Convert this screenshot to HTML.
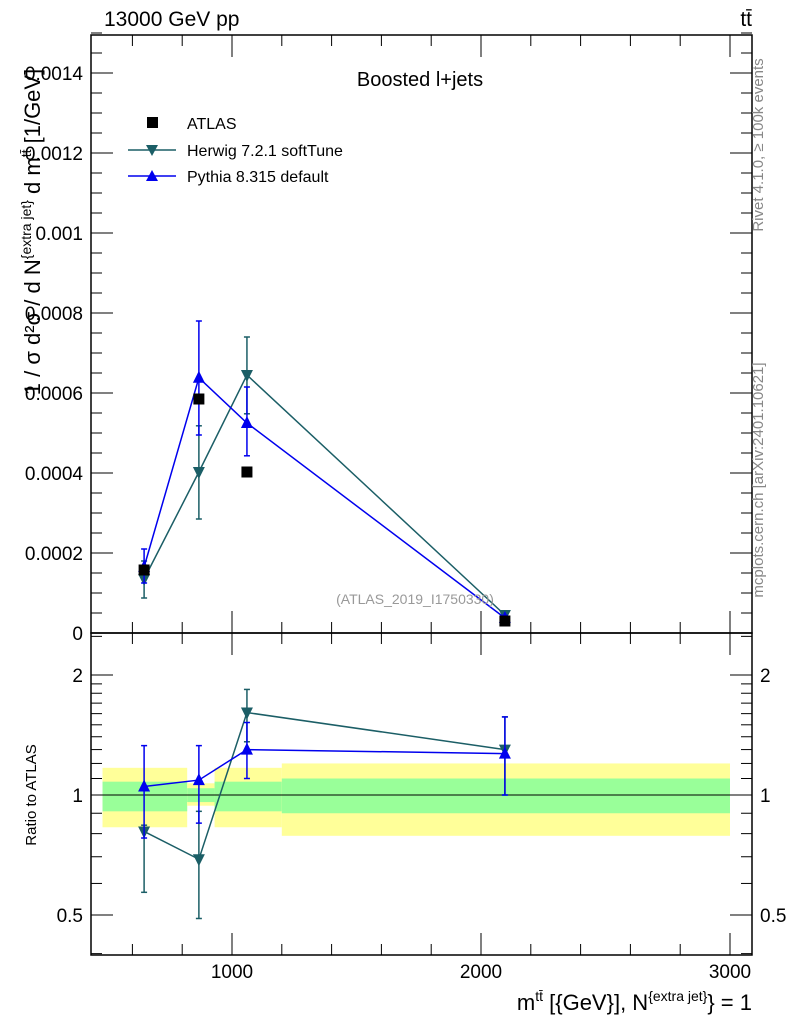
<!DOCTYPE html>
<html><head><meta charset="utf-8"><style>
body{margin:0;background:#fff;}
svg text{font-family:"Liberation Sans",sans-serif;}
</style></head><body>
<svg id="c" width="786" height="1024" xmlns="http://www.w3.org/2000/svg">
<g id="bands"></g>
<g id="axes"></g>
<g id="series"></g>
<text x="104" y="26" font-size="21">13000 GeV pp</text>
<text x="752" y="26" font-size="21" text-anchor="end">tt̄</text>
<text x="420" y="86" font-size="20" text-anchor="middle">Boosted l+jets</text>
<text x="415" y="604" font-size="14" fill="#999" text-anchor="middle">(ATLAS_2019_I1750330)</text>
<text transform="translate(40,232) rotate(-90)" font-size="22" text-anchor="middle">1 / σ d²σ / d N<tspan dy="-9" font-size="14">{extra jet}</tspan><tspan dy="9"> d m</tspan><tspan dy="-9" font-size="14">tt̄</tspan><tspan dy="9"> [1/GeV]</tspan></text>
<text transform="translate(36,795) rotate(-90)" font-size="15" text-anchor="middle">Ratio to ATLAS</text>
<text x="752" y="1010" font-size="22" text-anchor="end">m<tspan dy="-9" font-size="14">tt̄</tspan><tspan dy="9"> [{GeV}], N</tspan><tspan dy="-9" font-size="14">{extra jet}</tspan><tspan dy="9">} = 1</tspan></text>
<text transform="translate(763,145) rotate(-90)" font-size="15" fill="#888" text-anchor="middle">Rivet 4.1.0, ≥ 100k events</text>
<text transform="translate(763,480) rotate(-90)" font-size="15" fill="#888" text-anchor="middle">mcplots.cern.ch [arXiv:2401.10621]</text>
<g>
<rect x="147" y="117" width="11" height="11" fill="#000"/>
<text x="187" y="129" font-size="16">ATLAS</text>
<line x1="128" y1="150" x2="176" y2="150" stroke="#1b5e66" stroke-width="1.5"/>
<path d="M146,145 L158,145 L152,156 Z" fill="#1b5e66"/>
<text x="187" y="156" font-size="16">Herwig 7.2.1 softTune</text>
<line x1="128" y1="176" x2="176" y2="176" stroke="#0000ee" stroke-width="1.5"/>
<path d="M146,181 L158,181 L152,170 Z" fill="#0000ee"/>
<text x="187" y="182" font-size="16">Pythia 8.315 default</text>
</g>
</svg>
<script>
const xCenters=[647,867,1060,2096];
const atlas=[0.0001575,0.000585,0.0004025,0.00003];
const herwig=[0.000135,0.0004025,0.000645,0.000045];
const herwigLo=[0.0000875,0.000285,0.000548,0.00004];
const herwigHi=[0.00018,0.000518,0.00074,0.00005];
const pythia=[0.000165,0.000638,0.000525,0.0000375];
const pythiaLo=[0.000125,0.000495,0.000443,0.000032];
const pythiaHi=[0.00021,0.00078,0.000615,0.000044];
const herwigR=[0.81,0.69,1.61,1.30];
const herwigRLo=[0.57,0.49,1.36,1.0];
const herwigRHi=[0.84,0.91,1.84,1.57];
const pythiaR=[1.05,1.09,1.30,1.27];
const pythiaRLo=[0.78,0.85,1.10,1.0];
const pythiaRHi=[1.33,1.33,1.52,1.57];
const binEdges=[480,820,930,1200,3000];
const yellowLo=[0.83,0.94,0.83,0.79];
const yellowHi=[1.17,1.07,1.17,1.20];
const greenLo=[0.91,0.96,0.91,0.90];
const greenHi=[1.08,1.04,1.08,1.10];
const yTicks=[0,0.0002,0.0004,0.0006,0.0008,0.001,0.0012,0.0014];
const yTickLabels=["0","0.0002","0.0004","0.0006","0.0008","0.001","0.0012","0.0014"];
const xTicks=[1000,2000,3000];
const rTicks=[0.5,1,2];

const L=91,R=752,T=35,M=633,B=955;
const X=v=>-17+v*0.249;
const Y=v=>633-v/0.0002*80;
const YR=v=>795-Math.log2(v)*120;
const NS="http://www.w3.org/2000/svg";
function mk(p,t,a){const e=document.createElementNS(NS,t);for(const k in a)e.setAttribute(k,a[k]);p.appendChild(e);return e;}
const bands=document.getElementById('bands'),axes=document.getElementById('axes'),ser=document.getElementById('series');
for(let i=0;i<4;i++){
 const x0=X(binEdges[i]),x1=X(binEdges[i+1]);
 const y=mk(bands,'rect',{x:x0,y:YR(yellowHi[i]),width:x1-x0,height:YR(yellowLo[i])-YR(yellowHi[i]),fill:'#ffff99'});
 
 
 const g=mk(bands,'rect',{x:x0,y:YR(greenHi[i]),width:x1-x0,height:YR(greenLo[i])-YR(greenHi[i]),fill:'#99ff99'});
 
 
}
mk(axes,'line',{x1:L,x2:R,y1:YR(1),y2:YR(1),stroke:'#000','stroke-width':1});
mk(axes,'rect',{x:L,y:T,width:R-L,height:M-T,fill:'none',stroke:'#000','stroke-width':1.5});
mk(axes,'rect',{x:L,y:M,width:R-L,height:B-M,fill:'none',stroke:'#000','stroke-width':1.5});
for(let v=0;v<=0.0015001;v+=0.00005){const y=Y(v);const maj=Math.abs(v/0.0002-Math.round(v/0.0002))<1e-6;const l=maj?22:11;
 mk(axes,'line',{x1:L,x2:L+l,y1:y,y2:y,stroke:'#000'});mk(axes,'line',{x1:R-l,x2:R,y1:y,y2:y,stroke:'#000'});}
yTicks.forEach((v,i)=>{const t=mk(axes,'text',{x:83,y:Y(v)+7,'font-size':19,'text-anchor':'end'});t.textContent=yTickLabels[i];
 
 });
for(let v=600;v<=3000;v+=200){const x=X(v);const maj=v%1000===0;const l=maj?22:11;
 [[M,-1],[T,1],[B,-1],[M,1]].forEach(([y0,d])=>mk(axes,'line',{x1:x,x2:x,y1:y0,y2:y0+d*l,stroke:'#000'}));}
xTicks.forEach(v=>{const t=mk(axes,'text',{x:X(v),y:978,'font-size':19,'text-anchor':'middle'});t.textContent=String(v);
 
 });
const rt=[0.4,0.5,0.6,0.7,0.8,0.9,1,1.1,1.2,1.3,1.4,1.5,1.6,1.7,1.8,1.9,2,2.5];
rt.forEach(v=>{const y=YR(v);if(y<M||y>B)return;const maj=rTicks.includes(v);const l=maj?22:11;
 mk(axes,'line',{x1:L,x2:L+l,y1:y,y2:y,stroke:'#000'});mk(axes,'line',{x1:R-l,x2:R,y1:y,y2:y,stroke:'#000'});});
rTicks.forEach(v=>{[[83,'end'],[760,'start']].forEach(([x,a])=>{const t=mk(axes,'text',{x:x,y:YR(v)+7,'font-size':19,'text-anchor':a});t.textContent=String(v);
 
 });});
function series(vals,lo,hi,yf,color,up,name){
 const g=mk(ser,'g',{});
 
 
 mk(g,'polyline',{points:vals.map((v,i)=>X(xCenters[i])+','+yf(v)).join(' '),fill:'none',stroke:color,'stroke-width':1.5});
 vals.forEach((v,i)=>{const x=X(xCenters[i]),y=yf(v);
  mk(g,'line',{x1:x,x2:x,y1:yf(lo[i]),y2:yf(hi[i]),stroke:color,'stroke-width':1.5});
  [lo[i],hi[i]].forEach(e=>mk(g,'line',{x1:x-3,x2:x+3,y1:yf(e),y2:yf(e),stroke:color,'stroke-width':1.5}));
  const d=up?`M${x-6},${y+5} L${x+6},${y+5} L${x},${y-7} Z`:`M${x-6},${y-5} L${x+6},${y-5} L${x},${y+7} Z`;
  const m=mk(g,'path',{d:d,fill:color});
  
  
 });
}
series(herwig,herwigLo,herwigHi,Y,'#1b5e66',false,'herwig-series');
series(pythia,pythiaLo,pythiaHi,Y,'#0000ee',true,'pythia-series');
series(herwigR,herwigRLo,herwigRHi,YR,'#1b5e66',false,'herwig-ratio');
series(pythiaR,pythiaRLo,pythiaRHi,YR,'#0000ee',true,'pythia-ratio');
atlas.forEach((v,i)=>{const r=mk(ser,'rect',{x:X(xCenters[i])-5.5,y:Y(v)-5.5,width:11,height:11,fill:'#000'});
 
 });
</script>
</body></html>
